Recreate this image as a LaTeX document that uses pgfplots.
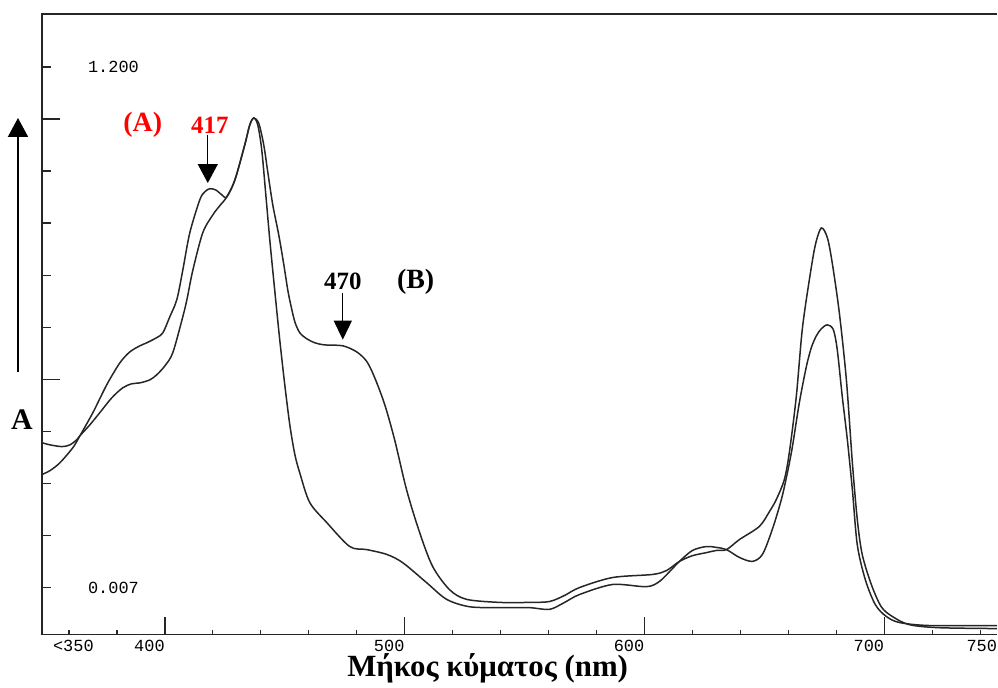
\documentclass[border=0pt]{standalone}
\usepackage{fontspec}
\setmainfont{Liberation Serif}
\newfontfamily\plotter{Liberation Mono}
\usepackage{pgfplots}
\usepackage{pgfplotstable}
\pgfplotsset{compat=1.18}
\usetikzlibrary{arrows.meta}

% curve (A): shoulder at 417 nm
\pgfplotstableread{
nm A
348.75 0.266
352.1 0.275
356.25 0.293
361.7 0.328
364.6 0.355
370.0 0.408
375.8 0.472
381.25 0.522
385.4 0.547
389.6 0.561
392.5 0.568
396.7 0.580
399.2 0.591
402.1 0.628
405.0 0.667
407.5 0.735
410.4 0.820
414.6 0.896
416.7 0.914
418.75 0.921
421.25 0.918
423.75 0.907
425.8 0.902
429.2 0.941
433.3 1.021
435.4 1.067
437.1 1.083
438.75 1.067
440.4 1.010
442.1 0.907
443.75 0.804
445.8 0.689
447.9 0.575
450.0 0.472
452.1 0.380
454.2 0.312
456.25 0.270
460.4 0.202
467.5 0.156
477.1 0.101
484.2 0.094
492.5 0.083
499.2 0.064
509.2 0.018
517.5 -0.020
527.1 -0.037
539.6 -0.039
552.1 -0.039
560.4 -0.043
566.7 -0.027
572.9 -0.009
586.7 0.014
600.8 0.009
606.25 0.021
611.25 0.048
614.6 0.067
620.0 0.092
625.8 0.101
630.0 0.099
634.2 0.094
639.6 0.076
645.0 0.067
649.2 0.083
653.3 0.140
657.1 0.209
659.6 0.270
661.7 0.330
664.6 0.431
667.5 0.513
669.6 0.557
671.7 0.584
673.75 0.600
676.25 0.609
678.75 0.598
680.4 0.552
682.5 0.444
684.6 0.346
686.7 0.231
688.75 0.105
692.1 0.025
696.25 -0.032
700.8 -0.059
706.25 -0.073
718.75 -0.080
747.1 -0.080
}\curveA

% curve (B): shoulder at 470 nm
\pgfplotstableread{
nm A
348.75 0.339
352.1 0.334
357.1 0.330
360.4 0.334
363.3 0.346
364.6 0.355
368.75 0.380
372.9 0.408
377.9 0.442
382.5 0.465
386.25 0.474
389.6 0.476
393.75 0.483
396.7 0.495
400.0 0.515
403.3 0.545
407.5 0.628
409.2 0.667
411.7 0.735
415.8 0.820
420.0 0.861
422.9 0.882
425.8 0.902
429.2 0.941
433.3 1.021
435.4 1.067
437.1 1.083
439.2 1.070
441.25 1.021
442.9 0.960
445.0 0.884
447.5 0.815
449.6 0.747
451.25 0.689
452.5 0.655
454.2 0.616
456.25 0.591
459.2 0.577
462.5 0.568
466.7 0.563
474.2 0.561
480.0 0.547
484.2 0.525
487.5 0.488
491.7 0.426
495.8 0.346
500.8 0.231
506.25 0.133
511.7 0.055
518.75 0.002
525.8 -0.020
539.6 -0.027
552.1 -0.027
560.4 -0.025
566.7 -0.011
572.9 0.007
586.7 0.030
603.3 0.037
609.2 0.046
614.6 0.067
620.0 0.080
625.8 0.087
630.0 0.092
634.2 0.094
639.6 0.117
647.9 0.147
652.1 0.181
655.0 0.209
658.3 0.254
660.4 0.316
663.3 0.444
665.8 0.598
668.75 0.712
671.25 0.792
673.75 0.831
676.25 0.809
678.3 0.751
681.25 0.637
684.2 0.483
686.7 0.293
688.75 0.163
690.8 0.083
694.6 0.014
698.75 -0.037
703.3 -0.059
710.4 -0.078
722.9 -0.085
747.1 -0.087
}\curveB

\begin{document}
\begin{tikzpicture}
\begin{axis}[
    width=956bp, height=621bp, scale only axis,
    xmin=348.75, xmax=747.1,
    ymin=-0.1006, ymax=1.3213,
    axis line style={draw=none},
    tick align=inside,
    xtick pos=left, ytick pos=left,
    tick style={line width=1.3bp, black!85},
    major tick length=9bp,
    minor tick length=5bp,
    xtick={400,500,600,700},
    xticklabels={400,500,600,700},
    minor xtick={360,380,420,440,460,480,520,540,560,580,620,640,660,680,720,740},
    extra x ticks={400,500,600,700},
    extra x tick labels={},
    extra x tick style={major tick length=18bp, tick style={line width=1.3bp, black!85}},
    ytick={0.007,0.1263,0.2456,0.3649,0.4842,0.6035,0.7228,0.8421,0.9614,1.0807,1.2},
    yticklabels={},
    extra y ticks={0.4842,1.0807},
    extra y tick labels={},
    extra y tick style={major tick length=18bp, tick style={line width=1.3bp, black!85}},
    xticklabel style={font=\plotter\fontsize{17}{17}\selectfont, anchor=north east, inner sep=0pt, yshift=-5bp},
    clip=false,
]
\addplot[black!85, line width=1.5bp, smooth, tension=0.5] table[x=nm, y=A] {\curveA};
\addplot[black!85, line width=1.5bp, smooth, tension=0.5] table[x=nm, y=A] {\curveB};

% frame: top, left and bottom only (the right side is cut off)
\draw[line width=1.6bp, black!85] (rel axis cs:1,1) -- (rel axis cs:0,1) -- (rel axis cs:0,0) -- (rel axis cs:1,0);

% instrument range labels and the end labels of the x axis
\node[anchor=west, inner sep=0pt, font=\plotter\fontsize{17}{17}\selectfont] at (axis cs:367.9,1.200) {1.200};
\node[anchor=west, inner sep=0pt, font=\plotter\fontsize{17}{17}\selectfont] at (axis cs:367.9,0.007) {0.007};
\node[anchor=north west, inner sep=0pt, yshift=-5bp, font=\plotter\fontsize{17}{17}\selectfont] at (axis cs:353.3,-0.1006) {<350};
\node[anchor=north east, inner sep=0pt, yshift=-5bp, font=\plotter\fontsize{17}{17}\selectfont] at (axis cs:747.1,-0.1006) {750};

% annotations
\node[text=red, font=\fontsize{28}{30}\selectfont\bfseries] at (axis cs:390.8,1.067) {(A)};
\node[text=red, font=\fontsize{25}{27}\selectfont\bfseries] at (axis cs:418.75,1.067) {417};
\draw[line width=1.3bp, -{Triangle[width=20bp,length=19bp]}] (axis cs:417.9,1.044) -- (axis cs:417.9,0.934);
\node[font=\fontsize{25}{27}\selectfont\bfseries] at (axis cs:474.2,0.708) {470};
\node[font=\fontsize{28}{30}\selectfont\bfseries] at (axis cs:504.6,0.708) {(B)};
\draw[line width=1.3bp, -{Triangle[width=18bp,length=19bp]}] (axis cs:474.2,0.683) -- (axis cs:474.2,0.575);

% ordinate arrow and label, abscissa title
\draw[line width=2bp, -{Triangle[width=20bp,length=19bp]}] (axis cs:338.75,0.500) -- (axis cs:338.75,1.083);
\node[font=\fontsize{30}{32}\selectfont\bfseries] at (axis cs:340.4,0.392) {A};
\node[font=\fontsize{31}{33}\selectfont\bfseries] at (axis cs:534.6,-0.178) {Μήκος κύματος (nm)};

\path (axis cs:331.25,-0.222) rectangle (axis cs:747.1,1.3534);
\end{axis}
\end{tikzpicture}
\end{document}
